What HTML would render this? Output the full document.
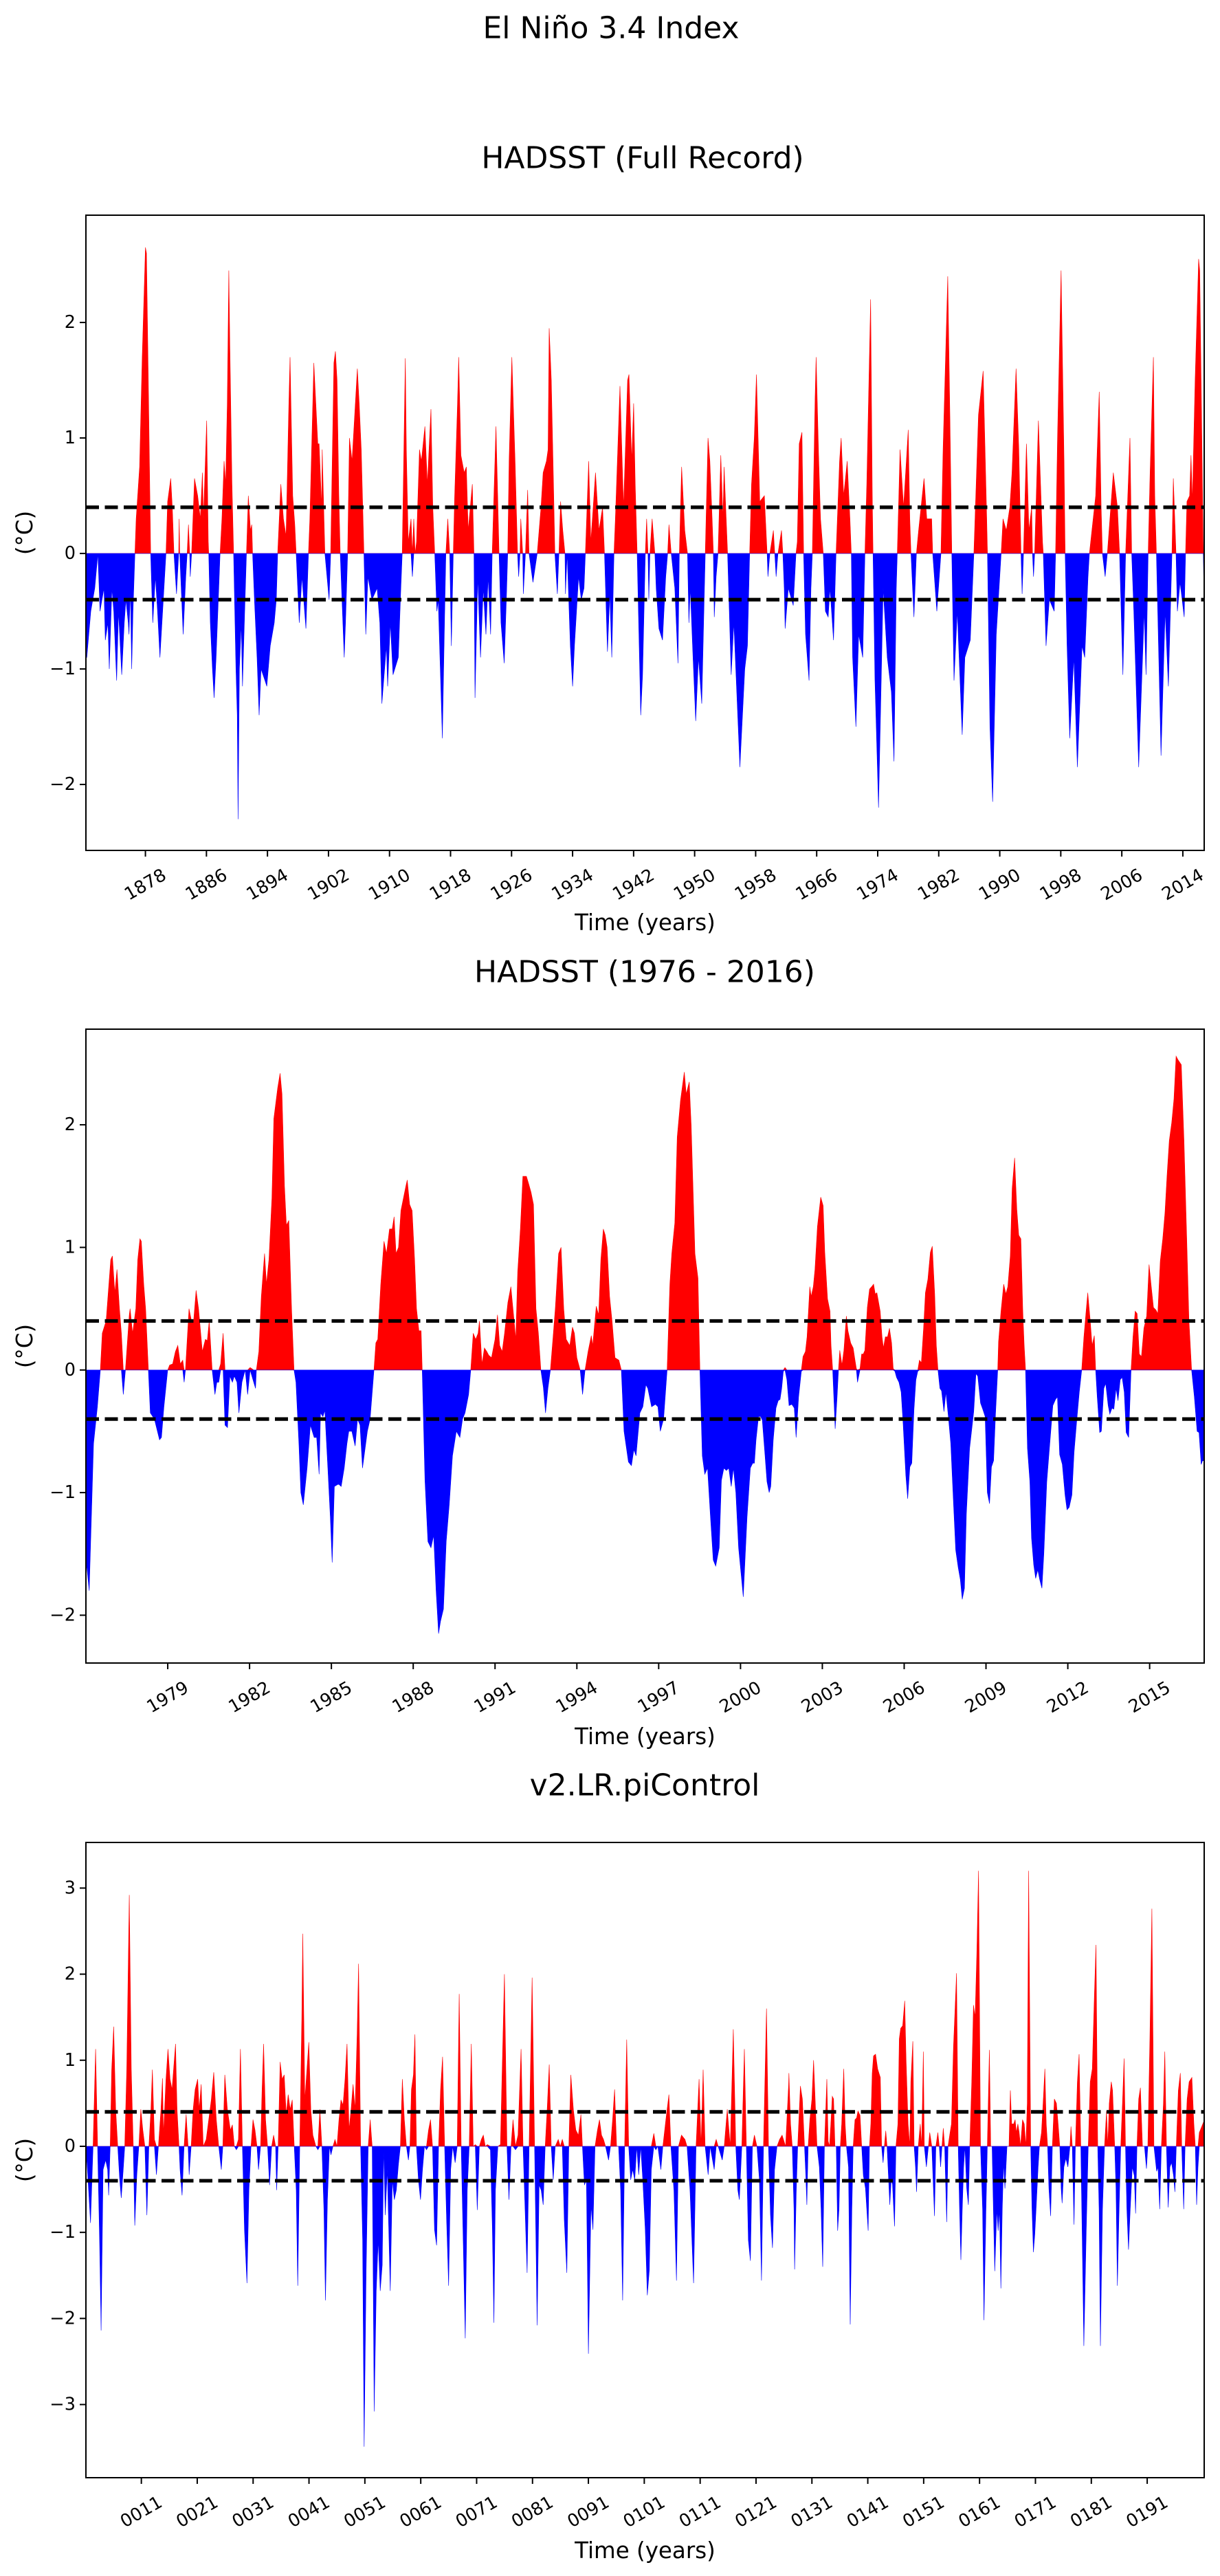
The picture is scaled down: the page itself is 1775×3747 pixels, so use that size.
<!DOCTYPE html>
<html>
<head>
<meta charset="utf-8">
<style>
html,body{margin:0;padding:0;background:#fff;}
svg{display:block;}
text{font-family:"DejaVu Sans","Liberation Sans",sans-serif;fill:#000;}
</style>
</head>
<body>
<svg id="fig" xmlns="http://www.w3.org/2000/svg" width="1775" height="3747" viewBox="0 0 1775 3747">
<rect x="0" y="0" width="1775" height="3747" fill="#fff"/>
<text x="889" y="41" font-size="44" text-anchor="middle" dominant-baseline="central">El Niño 3.4 Index</text>
<text x="935" y="230" font-size="44" text-anchor="middle" dominant-baseline="central">HADSST (Full Record)</text>
<text x="938" y="1414" font-size="44" text-anchor="middle" dominant-baseline="central">HADSST (1976 - 2016)</text>
<text x="938" y="2597" font-size="44" text-anchor="middle" dominant-baseline="central">v2.LR.piControl</text>
</svg>
<script>
// ---- Chart 1: HADSST full record (decimal year, value) ----
const fullRecordSeries = [
[1870.2,-0.9],[1870.32,-0.9],[1870.84,-0.5],[1871.36,-0.3],[1871.77,0],[1872.05,-0.5],[1872.57,-0.3],[1872.74,-0.75],[1873.09,-0.6],[1873.26,-1.0],[1873.61,-0.3],[1873.85,-0.5],[1874.23,-1.1],[1874.47,-0.5],[1874.89,-1.05],[1875.23,-0.6],[1875.44,-0.4],[1875.75,-0.6],[1875.85,-0.7],[1876.03,-0.3],[1876.2,-1.0],[1876.37,-0.5],[1876.62,0],
[1876.79,0.3],[1877.24,0.75],[1877.58,1.7],[1878.0,2.65],[1878.14,2.6],[1878.45,1.15],[1878.69,0],
[1878.97,-0.6],[1879.31,-0.2],[1879.59,-0.5],[1879.9,-0.9],[1880.35,-0.4],[1880.7,0],
[1880.91,0.45],[1881.32,0.65],[1881.53,0.4],[1881.74,0],[1882.08,-0.35],[1882.36,0],[1882.43,0.3],[1882.5,0],[1882.95,-0.7],[1883.29,-0.2],[1883.47,0],[1883.64,0.25],[1883.81,0],[1883.88,-0.2],[1884.06,0],
[1884.44,0.65],[1884.85,0.5],[1885.2,0.3],[1885.47,0.7],[1885.61,0.3],[1886.03,1.15],[1886.24,0.1],[1886.3,0],
[1886.51,-0.6],[1886.79,-1.0],[1887.0,-1.25],[1887.27,-0.9],[1887.62,-0.3],[1887.79,0],
[1888.03,0.3],[1888.31,0.8],[1888.52,0.6],[1888.73,1.3],[1888.93,2.45],[1889.07,1.8],[1889.35,0.6],[1889.56,0],
[1889.87,-1.0],[1890.04,-1.4],[1890.15,-2.3],[1890.32,-1.0],[1890.56,-0.6],[1890.73,-1.15],[1891.01,-0.5],[1891.25,0],
[1891.49,0.5],[1891.77,0.2],[1891.94,0.25],[1892.05,0],
[1892.29,-0.4],[1892.64,-0.9],[1892.91,-1.4],[1893.16,-1.0],[1893.67,-1.1],[1893.92,-1.15],[1894.37,-0.8],[1894.89,-0.6],[1895.16,-0.4],[1895.34,0],
[1895.75,0.6],[1896.1,0.3],[1896.44,0.15],[1896.79,1.25],[1896.96,1.7],[1897.31,0.5],[1897.58,0.25],[1897.76,0],
[1898.17,-0.6],[1898.52,-0.2],[1899.04,-0.65],[1899.38,0],
[1899.56,0.3],[1899.83,1.0],[1900.08,1.65],[1900.6,0.95],[1900.77,0.95],[1901.11,0.4],[1901.18,0.9],[1901.53,0],
[1902.08,-0.4],[1902.29,0],[1902.71,1.65],[1902.91,1.75],[1903.12,1.5],[1903.36,0.5],[1903.54,0],
[1904.06,-0.9],[1904.23,-0.6],[1904.51,0],[1904.75,1.0],[1905.09,0.8],[1905.78,1.6],[1906.03,1.3],[1906.3,0.9],[1906.65,0],
[1906.89,-0.7],[1907.17,-0.2],[1907.69,-0.4],[1908.38,-0.3],[1908.73,-0.6],[1909.0,-1.3],[1909.59,-0.8],[1909.76,-1.15],[1910.11,-0.6],[1910.46,-1.05],[1911.15,-0.9],[1911.49,-0.3],[1911.67,0],
[1912.07,1.69],[1912.21,0.9],[1912.46,0.1],[1912.82,0.3],[1913.0,-0.2],[1913.18,0.3],[1913.36,0],[1913.54,0.1],[1913.93,0.9],[1914.18,0.8],[1914.64,1.1],[1914.96,0.6],[1915.43,1.25],[1915.68,0.4],[1915.93,0],
[1916.21,-0.5],[1916.39,-0.4],[1916.75,-1.2],[1916.93,-1.6],[1917.21,-0.6],[1917.39,0],[1917.64,0.3],[1917.89,0],[1918.11,-0.8],[1918.36,0],
[1918.54,0.5],[1918.89,1.25],[1919.07,1.7],[1919.36,0.85],[1919.79,0.7],[1920.07,0.75],[1920.32,0.2],[1920.86,0.6],[1921.07,0],
[1921.21,-1.25],[1921.57,-0.2],[1921.93,-0.9],[1922.29,-0.3],[1922.64,-0.7],[1922.93,-0.2],[1923.25,-0.7],[1923.46,0],
[1923.96,1.1],[1924.18,0.5],[1924.36,0],[1924.61,-0.6],[1925.04,-0.95],[1925.32,-0.4],[1925.5,0],
[1925.68,0.8],[1926.04,1.7],[1926.46,0.8],[1926.79,0],[1926.93,-0.2],[1927.11,0],[1927.21,0.3],[1927.46,0],[1927.54,-0.35],[1927.82,0],[1928.11,0.55],[1928.29,0],[1928.8,-0.25],[1929.36,0],
[1929.86,0.4],[1930.14,0.7],[1930.57,0.8],[1930.79,0.9],[1930.93,1.95],[1931.21,1.5],[1931.5,0.6],[1931.68,0],
[1932.0,-0.35],[1932.21,0],[1932.43,0.45],[1932.71,0.2],[1933.0,0],[1933.07,-0.35],[1933.29,0],
[1933.71,-0.8],[1934.0,-1.15],[1934.25,-0.8],[1934.79,-0.2],[1935.14,-0.4],[1935.5,-0.3],[1935.68,0],
[1936.11,0.8],[1936.39,0.1],[1937.0,0.7],[1937.46,0.2],[1937.93,0.4],[1938.18,0],
[1938.57,-0.85],[1938.89,-0.35],[1939.14,-0.9],[1939.43,0],
[1939.61,0.3],[1940.21,1.45],[1940.68,0.4],[1941.21,1.5],[1941.39,1.55],[1941.75,0.8],[1942.0,1.3],[1942.21,0.6],[1942.46,0],
[1942.93,-1.4],[1943.18,-1.05],[1943.54,0],[1943.71,0.3],[1943.89,0],[1944.0,-0.4],[1944.14,0],[1944.43,0.3],[1944.79,0],
[1944.96,-0.3],[1945.32,-0.65],[1945.79,-0.75],[1946.21,-0.2],[1946.46,0],
[1946.64,0.25],[1946.93,0],[1947.4,-0.3],[1947.82,-0.95],[1948.0,0],[1948.29,0.75],[1948.71,0.2],[1949.07,0],[1949.25,-0.6],[1949.43,-0.3],
[1949.79,-0.9],[1950.14,-1.45],[1950.5,-0.9],[1950.93,-1.3],[1951.21,-0.5],[1951.39,0],
[1951.75,1.0],[1952.0,0.8],[1952.29,0.3],[1952.46,0],[1952.57,-0.55],[1952.82,-0.2],[1953.07,0],
[1953.43,0.85],[1953.71,0.3],[1953.86,0.75],[1954.32,0],
[1954.79,-1.05],[1955.14,-0.6],[1955.93,-1.85],[1956.57,-1.0],[1956.93,-0.8],[1957.21,0],
[1957.46,0.6],[1957.82,1.0],[1958.11,1.55],[1958.54,0.45],[1959.14,0.5],[1959.5,0],
[1959.61,-0.2],[1959.86,0],[1960.32,0.2],[1960.5,0],[1960.68,-0.2],[1960.93,0],[1961.39,0.2],[1961.57,0],
[1961.75,-0.3],[1961.86,-0.65],[1962.29,-0.3],[1962.93,-0.45],[1963.29,0],
[1963.46,0.1],[1963.71,0.95],[1964.07,1.05],[1964.29,0],[1964.54,-0.7],[1965.0,-1.1],[1965.25,-0.3],[1965.43,0],
[1965.79,1.35],[1965.93,1.7],[1966.25,0.85],[1966.5,0.3],[1966.86,0],
[1967.14,-0.5],[1967.5,-0.55],[1967.75,-0.3],[1968.21,-0.75],[1968.54,0],
[1969.0,0.8],[1969.21,1.0],[1969.54,0.5],[1970.0,0.8],[1970.36,0.3],[1970.54,0],
[1970.71,-0.9],[1971.14,-1.5],[1971.5,-0.7],[1972.04,-0.9],[1972.32,0],
[1972.57,0.6],[1973.07,2.2],[1973.29,0.5],[1973.39,0],
[1973.64,-1.1],[1974.11,-2.2],[1974.71,-0.3],[1975.25,-0.9],[1975.79,-1.2],[1976.14,-1.8],[1976.43,-0.3],[1976.57,0],
[1976.93,0.9],[1977.39,0.4],[1978.0,1.07],[1978.21,0.3],[1978.36,0],[1978.75,-0.55],[1979.07,0],
[1979.36,0.2],[1980.07,0.65],[1980.43,0.3],[1981.07,0.3],[1981.21,0],[1981.75,-0.5],[1982.29,0],
[1982.57,0.9],[1983.18,2.4],[1983.46,1.2],[1983.71,0],
[1984.0,-1.1],[1984.43,-0.5],[1985.07,-1.57],[1985.43,-0.9],[1986.14,-0.75],[1986.61,0],
[1987.21,1.2],[1987.82,1.58],[1988.29,0.3],[1988.39,0],
[1988.71,-1.5],[1989.07,-2.15],[1989.54,-0.7],[1990.18,0],
[1990.43,0.3],[1990.86,0.2],[1991.32,0.4],[1991.61,0.7],[1992.14,1.6],[1992.5,0.9],[1992.79,0],
[1992.93,-0.35],[1993.11,0],[1993.5,0.95],[1993.82,0.2],[1994.18,0.4],[1994.29,0],[1994.43,-0.2],[1994.57,0],[1995.07,1.15],[1995.61,0.1],[1995.71,0],
[1996.07,-0.8],[1996.5,-0.4],[1997.14,-0.5],[1997.32,0],
[1997.57,1.0],[1998.04,2.45],[1998.43,0.8],[1998.57,0],
[1998.82,-0.8],[1999.18,-1.6],[1999.71,-0.9],[2000.18,-1.85],[2000.79,-0.8],[2001.14,-0.9],[2001.57,-0.2],[2001.75,0],
[2002.57,0.5],[2003.04,1.4],[2003.29,0.4],[2003.46,0],[2003.82,-0.2],[2004.1,0],[2004.89,0.7],[2005.43,0.4],[2005.71,0],
[2006.14,-1.05],[2006.5,0],[2007.07,1.0],[2007.29,0],
[2007.57,-0.5],[2008.21,-1.85],[2008.93,-0.5],[2009.18,-1.05],[2009.46,0],
[2009.71,0.7],[2010.14,1.7],[2010.32,0.5],[2010.54,0],
[2011.14,-1.75],[2011.68,-0.5],[2012.11,-1.15],[2012.57,0],
[2012.75,0.65],[2013.11,0],[2013.29,-0.5],[2013.64,-0.25],[2014.18,-0.55],[2014.36,0],
[2014.54,0.45],[2014.89,0.5],[2015.07,0.85],[2015.25,0.45],[2015.61,1.5],[2016.07,2.55],[2016.21,2.45],[2016.68,0],[2016.79,-0.4]
];
const fullRecordXTicks = [1878,1886,1894,1902,1910,1918,1926,1934,1942,1950,1958,1966,1974,1982,1990,1998,2006,2014];
const fullRecordYTicks = [-2,-1,0,1,2];

// ---- Chart 2: HADSST 1976-2016 ----
const recentSeries = [
[1976.0,-1.5],[1976.03,-1.6],[1976.12,-1.8],[1976.28,-0.6],[1976.42,-0.3],[1976.53,0],[1976.6,0.3],[1976.74,0.4],[1976.91,0.9],[1976.97,0.93],[1977.06,0.63],[1977.14,0.82],[1977.23,0.5],[1977.3,0.3],[1977.37,-0.2],[1977.45,0],[1977.59,0.45],[1977.62,0.5],[1977.71,0.3],[1977.83,0.5],[1977.9,0.9],[1977.98,1.07],[1978.03,1.05],[1978.12,0.7],[1978.19,0.5],[1978.29,0],[1978.36,-0.35],[1978.51,-0.4],[1978.7,-0.57],[1978.77,-0.55],[1978.86,-0.3],[1979.0,0],[1979.07,0.04],[1979.18,0.05],[1979.28,0.15],[1979.37,0.2],[1979.46,0.05],[1979.55,0.08],[1979.6,-0.1],[1979.65,0],[1979.78,0.5],[1979.87,0.4],[1979.95,0.4],[1980.04,0.65],[1980.13,0.5],[1980.27,0.15],[1980.38,0.25],[1980.45,0.24],[1980.52,0.4],[1980.63,0],[1980.73,-0.2],[1980.8,-0.1],[1980.87,-0.1],[1980.94,0.05],[1981.03,0.3],[1981.1,-0.45],[1981.19,-0.47],[1981.28,-0.05],[1981.37,-0.1],[1981.44,-0.05],[1981.54,-0.1],[1981.61,-0.35],[1981.72,-0.1],[1981.84,0],[1981.93,-0.2],[1982.02,0.02],[1982.15,-0.1],[1982.22,-0.15],[1982.25,0],[1982.34,0.15],[1982.43,0.6],[1982.55,0.95],[1982.62,0.7],[1982.71,0.9],[1982.82,1.4],[1982.89,2.05],[1983.03,2.3],[1983.12,2.42],[1983.19,2.25],[1983.28,1.5],[1983.35,1.18],[1983.44,1.22],[1983.54,0.5],[1983.63,0],[1983.7,-0.1],[1983.81,-0.6],[1983.88,-1.0],[1983.97,-1.1],[1984.11,-0.8],[1984.23,-0.45],[1984.37,-0.55],[1984.46,-0.55],[1984.55,-0.85],[1984.6,-0.35],[1984.69,-0.38],[1984.76,-0.33],[1984.87,-0.8],[1984.96,-1.2],[1985.03,-1.57],[1985.11,-0.95],[1985.26,-0.93],[1985.36,-0.95],[1985.47,-0.8],[1985.57,-0.6],[1985.64,-0.5],[1985.75,-0.5],[1985.87,-0.62],[1985.96,-0.4],[1986.05,-0.45],[1986.14,-0.8],[1986.32,-0.5],[1986.42,-0.4],[1986.49,-0.2],[1986.56,0],[1986.63,0.22],[1986.7,0.25],[1986.81,0.7],[1986.93,1.05],[1987.02,0.95],[1987.13,1.15],[1987.23,1.15],[1987.3,1.25],[1987.37,0.95],[1987.46,1.0],[1987.55,1.3],[1987.64,1.4],[1987.73,1.5],[1987.78,1.55],[1987.87,1.35],[1987.96,1.3],[1988.05,0.9],[1988.12,0.5],[1988.21,0.32],[1988.29,0.32],[1988.33,0],[1988.43,-0.9],[1988.54,-1.4],[1988.65,-1.45],[1988.75,-1.35],[1988.84,-1.8],[1988.93,-2.15],[1989.0,-2.05],[1989.11,-1.95],[1989.21,-1.4],[1989.32,-1.1],[1989.44,-0.7],[1989.58,-0.5],[1989.71,-0.55],[1989.81,-0.4],[1989.9,-0.35],[1990.03,-0.2],[1990.11,0],[1990.2,0.3],[1990.29,0.25],[1990.38,0.3],[1990.43,0.4],[1990.52,0.05],[1990.61,0.18],[1990.7,0.15],[1990.77,0.12],[1990.87,0.1],[1991.0,0.25],[1991.09,0.45],[1991.17,0.2],[1991.26,0.15],[1991.35,0.3],[1991.47,0.55],[1991.58,0.68],[1991.7,0.4],[1991.76,0.25],[1991.83,0.8],[1991.93,1.15],[1992.02,1.58],[1992.15,1.58],[1992.23,1.52],[1992.32,1.45],[1992.41,1.35],[1992.5,0.5],[1992.59,0.3],[1992.68,0],[1992.77,-0.14],[1992.85,-0.35],[1992.94,-0.15],[1993.03,0],[1993.12,0.25],[1993.21,0.5],[1993.33,0.95],[1993.42,1.0],[1993.52,0.5],[1993.61,0.25],[1993.74,0.2],[1993.84,0.35],[1993.91,0.3],[1994.0,0.1],[1994.12,0],[1994.21,-0.2],[1994.3,0],[1994.41,0.15],[1994.53,0.28],[1994.58,0.2],[1994.71,0.52],[1994.8,0.45],[1994.88,0.9],[1994.97,1.15],[1995.04,1.1],[1995.11,1.0],[1995.2,0.6],[1995.29,0.4],[1995.4,0.1],[1995.54,0.08],[1995.63,0],[1995.73,-0.5],[1995.89,-0.75],[1996.0,-0.78],[1996.09,-0.65],[1996.17,-0.7],[1996.31,-0.35],[1996.42,-0.3],[1996.53,-0.12],[1996.6,-0.15],[1996.74,-0.3],[1996.88,-0.28],[1996.97,-0.3],[1997.06,-0.5],[1997.18,-0.4],[1997.31,0],[1997.41,0.7],[1997.48,0.95],[1997.59,1.2],[1997.68,1.9],[1997.8,2.2],[1997.94,2.43],[1998.01,2.25],[1998.12,2.35],[1998.19,2.0],[1998.33,0.95],[1998.44,0.75],[1998.51,0],[1998.6,-0.7],[1998.69,-0.85],[1998.79,-0.8],[1998.9,-1.2],[1999.0,-1.55],[1999.09,-1.6],[1999.22,-1.45],[1999.3,-0.9],[1999.39,-0.8],[1999.48,-0.82],[1999.57,-0.8],[1999.66,-0.95],[1999.74,-0.8],[1999.83,-1.0],[1999.93,-1.45],[2000.1,-1.85],[2000.24,-1.2],[2000.36,-0.8],
[2000.45,-0.76],[2000.51,-0.76],[2000.57,-0.57],[2000.66,-0.38],[2000.74,-0.38],[2000.8,-0.41],[2000.89,-0.67],[2000.97,-0.91],[2001.05,-1.0],[2001.11,-0.95],[2001.2,-0.57],[2001.3,-0.31],[2001.38,-0.25],[2001.45,-0.24],[2001.51,-0.15],[2001.57,-0.01],[2001.63,0.02],[2001.7,-0.08],[2001.78,-0.29],[2001.88,-0.28],[2001.97,-0.31],[2002.04,-0.55],[2002.13,-0.22],[2002.23,-0.01],[2002.29,0.11],[2002.38,0.15],[2002.44,0.27],[2002.54,0.68],[2002.59,0.6],[2002.67,0.68],[2002.73,0.82],[2002.82,1.17],[2002.94,1.41],[2003.03,1.34],[2003.09,0.96],[2003.19,0.58],[2003.28,0.48],[2003.32,0.2],[2003.38,0],[2003.47,-0.48],[2003.54,-0.22],[2003.59,0],[2003.64,0.16],[2003.72,0.04],[2003.79,0.16],[2003.88,0.44],[2003.94,0.32],[2004.04,0.22],[2004.13,0.18],[2004.19,0.09],[2004.25,0.01],[2004.29,-0.1],[2004.38,0.01],[2004.44,0.13],[2004.5,0.13],[2004.56,0.16],[2004.65,0.51],[2004.73,0.66],[2004.81,0.68],[2004.88,0.7],[2004.94,0.62],[2005.0,0.63],[2005.12,0.48],[2005.19,0.27],[2005.24,0.18],[2005.31,0.27],[2005.39,0.27],[2005.46,0.34],[2005.54,0.22],[2005.6,0.01],[2005.66,-0.01],[2005.72,-0.06],[2005.81,-0.1],[2005.89,-0.18],[2005.96,-0.43],[2006.06,-0.86],[2006.13,-1.05],[2006.21,-0.79],[2006.28,-0.76],[2006.36,-0.32],[2006.43,-0.08],[2006.5,-0.01],[2006.56,0.08],[2006.63,0.06],[2006.71,0.34],[2006.78,0.63],[2006.87,0.74],[2006.96,0.96],[2007.03,1.01],[2007.12,0.62],[2007.18,0.2],[2007.24,0],[2007.31,-0.15],[2007.37,-0.17],[2007.46,-0.34],[2007.53,-0.18],[2007.62,-0.38],[2007.71,-0.6],[2007.81,-1.09],[2007.89,-1.47],[2007.98,-1.61],[2008.06,-1.71],[2008.13,-1.87],[2008.21,-1.78],[2008.28,-1.17],[2008.4,-0.64],[2008.49,-0.46],[2008.55,-0.34],[2008.63,-0.03],[2008.7,-0.05],[2008.8,-0.27],[2008.88,-0.32],[2008.97,-0.38],[2009.05,-1.0],[2009.13,-1.09],[2009.2,-0.79],[2009.28,-0.74],[2009.35,-0.36],[2009.43,0],[2009.46,0.23],[2009.55,0.48],[2009.65,0.7],[2009.73,0.62],[2009.8,0.68],[2009.89,0.93],[2009.96,1.48],[2010.05,1.73],[2010.13,1.31],[2010.2,1.1],[2010.28,1.07],[2010.35,0.48],[2010.4,0.2],[2010.45,0],[2010.52,-0.64],[2010.61,-0.91],[2010.67,-1.37],[2010.75,-1.59],[2010.82,-1.7],[2010.9,-1.63],[2010.97,-1.71],[2011.05,-1.78],[2011.12,-1.5],[2011.23,-0.91],[2011.35,-0.57],[2011.45,-0.29],[2011.55,-0.24],[2011.62,-0.22],[2011.7,-0.69],[2011.8,-0.77],[2011.9,-1.02],[2011.97,-1.14],[2012.05,-1.12],[2012.15,-1.02],[2012.23,-0.67],[2012.32,-0.43],[2012.42,-0.18],[2012.51,0],[2012.59,0.27],[2012.67,0.48],[2012.73,0.63],[2012.82,0.41],[2012.89,0.2],[2012.97,0.28],[2013.02,0],[2013.08,-0.22],[2013.17,-0.51],[2013.23,-0.5],[2013.32,-0.15],[2013.39,-0.11],[2013.48,-0.29],[2013.54,-0.36],[2013.62,-0.31],[2013.69,-0.32],[2013.77,-0.15],[2013.84,-0.25],[2013.92,-0.08],[2013.99,-0.06],[2014.07,-0.18],[2014.14,-0.51],[2014.23,-0.55],[2014.32,0],[2014.39,0.27],[2014.47,0.48],[2014.54,0.46],[2014.62,0.13],[2014.7,0.11],[2014.79,0.34],[2014.89,0.44],[2014.98,0.86],[2015.06,0.68],[2015.14,0.51],[2015.23,0.49],[2015.3,0.46],[2015.39,0.89],[2015.48,1.07],[2015.56,1.28],[2015.64,1.59],[2015.72,1.87],[2015.81,2.02],[2015.89,2.21],[2015.97,2.56],[2016.04,2.53],[2016.1,2.51],[2016.16,2.49],[2016.26,1.87],[2016.36,1.07],[2016.44,0.41],[2016.54,0],[2016.64,-0.22],[2016.74,-0.5],[2016.81,-0.51],[2016.89,-0.77],[2016.94,-0.74],[2017.0,-0.74]
];
const recentXTicks = [1979,1982,1985,1988,1991,1994,1997,2000,2003,2006,2009,2012,2015];
const recentYTicks = [-2,-1,0,1,2];

// ---- Chart 3: v2.LR.piControl (model year, value) ----
const controlSeries = [
[1.08,0],[1.46,-0.39],[1.91,-0.89],[2.36,0],[2.81,1.13],[3.17,0],[3.53,-1.09],[3.8,-2.14],[4.16,-0.27],[4.61,-0.16],[4.97,-0.27],[5.15,-0.57],[5.42,0],[5.69,0.89],[6.05,1.39],[6.41,0.43],[6.77,0],[7.13,-0.39],[7.4,-0.6],[7.76,-0.27],[8.03,0],[8.39,0.89],[8.84,2.92],[9.2,0.89],[9.56,0],[9.83,-0.92],[10.19,-0.33],[10.55,0],[10.91,0.43],[11.27,0.19],[11.63,0],[11.99,-0.8],[12.35,0],[12.71,0.43],[12.98,0.89],[13.34,0.08],[13.7,-0.33],[14.06,0],[14.51,0.43],[14.78,0.79],[14.96,0.13],[15.41,0.78],[15.77,1.13],[16.13,0.78],[16.49,0.66],[16.76,0.89],[17.12,1.19],[17.39,0.43],[17.75,0],[17.93,-0.27],[18.29,-0.57],[18.65,0],[19.01,0.37],[19.37,0],[19.55,-0.33],[19.91,0],[20.27,0.43],[20.63,0.66],[21.08,0.78],[21.35,0.43],[21.71,0.72],[22.07,0],[22.61,0.08],[23.06,0.31],[23.51,0.54],[23.96,0.86],[24.41,0.31],[24.86,0],[25.31,-0.27],[25.58,0],[25.94,0.83],[26.39,0.43],[26.93,0.19],[27.29,0.25],[27.65,0],[28.01,-0.04],[28.37,0.08],[28.73,1.13],[29.09,0],[29.45,-0.97],[29.9,-1.59],[30.26,-0.51],[30.62,0],[30.98,0.31],[31.34,0.19],[31.7,0],[31.97,-0.27],[32.33,0],[32.6,0.66],[32.87,1.19],[33.23,0.31],[33.59,0],[33.95,-0.45],[34.31,0],[34.67,0.13],[35.03,0],[35.21,-0.51],[35.48,0],[35.84,0.98],[36.2,0.78],[36.56,0.83],[36.92,0.37],[37.28,0.6],[37.64,0.43],[38.0,0.54],[38.36,0],[38.72,-0.51],[38.99,-1.62],[39.35,0],[39.71,1.48],[39.89,2.47],[40.25,0.54],[40.97,1.21],[41.33,0.43],[41.69,0.13],[42.23,0],[42.59,-0.04],[42.95,0.43],[43.31,0],[43.67,-0.74],[43.94,-1.79],[44.3,-0.62],[44.66,0],[44.93,-0.1],[45.29,0],[45.65,0.08],[46.01,0],[46.37,0.31],[46.73,0.54],[47.09,0.48],[47.45,0.78],[47.81,1.19],[48.17,0.19],[48.53,0.43],[48.89,0.72],[49.25,0.43],[49.61,1.3],[49.88,2.12],[50.24,0],[50.6,-1.09],[50.87,-3.49],[51.23,-1.44],[51.59,0],[51.95,0.31],[52.31,0],[52.67,-3.08],[53.03,-1.68],[53.39,-1.09],[53.75,-1.68],[54.11,-1.38],[54.38,0],[54.65,-0.8],[55.01,-0.27],[55.55,-1.68],[55.91,-0.39],[56.27,-0.62],[56.63,-0.51],[56.99,-0.22],[57.35,0],[57.71,0.78],[58.07,0.31],[58.43,0],[58.79,-0.16],[59.06,0],[59.33,0.66],[59.69,0.83],[59.96,1.3],[60.23,0],[60.59,-0.39],[60.95,-0.62],[61.31,-0.27],[61.67,0],[62.03,-0.04],[62.39,0.19],[62.75,0.31],[63.11,0],[63.47,-0.97],[63.83,-1.15],[64.19,0],[64.55,0.66],[64.91,1.04],[65.27,0],[65.63,-0.86],[65.99,-1.62],[66.35,-0.27],[66.71,0],[67.16,-0.19],[67.52,0],[67.88,1.77],[68.24,0],[68.6,-1.09],[68.96,-2.23],[69.32,-0.51],[69.68,0],[70.04,1.19],[70.4,0],[70.76,0.02],[71.12,-0.74],[71.48,0],[71.84,0.08],[72.2,0.13],[72.56,0],[72.92,0.02],[73.46,-0.04],[73.82,-0.97],[74.09,-2.05],[74.36,-0.51],[74.81,0],[75.26,0.02],[75.98,2.0],[76.43,0],[76.79,-0.62],[77.15,0],[77.51,0.31],[77.96,-0.04],[78.41,0.13],[78.95,1.13],[79.31,0],[80.03,-1.47],[80.39,0],[80.93,1.96],[81.38,0],[81.83,-2.08],[82.19,-0.45],[82.55,-0.51],[82.91,-0.68],[83.27,0],[83.63,0.43],[83.99,0.95],[84.35,0],[84.71,-0.39],[85.07,0],[85.61,0.08],[85.97,0],[86.33,0.08],[86.69,-0.86],[87.14,-1.47],[87.5,0],[87.86,0.83],[88.31,0.43],[88.76,0.19],[89.21,0.13],[89.66,0.37],[89.93,0],[90.29,-0.45],[90.65,-0.39],[91.01,-2.41],[91.46,-0.68],[91.82,-0.97],[92.18,0],[92.63,0.19],[92.99,0.31],[93.35,0.13],[93.71,0.08],[94.07,0],[94.61,-0.16],[94.97,0],[95.33,0.31],[95.69,0.66],[96.05,0],[96.41,0],[96.77,-0.51],[97.13,-1.79],[97.49,0],[97.85,1.24],[98.21,0],[98.57,-0.39],[98.93,-0.27],[99.29,-0.39],[99.65,0],[100.01,-0.33],[100.37,0],[100.73,-0.39],[101.18,-0.97],[101.54,-1.73],[101.9,-1.44],[102.26,-0.27],[102.71,0.15],[103.07,-0.04],[103.43,0],[103.97,-0.27],[104.33,0],[104.87,0.31],[105.41,0.6],[105.77,0],[106.31,-0.51],[106.76,-1.56],[107.12,0],[107.66,0.13],[108.29,0.08],[108.65,0],[109.19,-0.51],[109.82,-1.59],[110.27,0],[110.81,0.78],[111.17,0],[111.53,0.89],[111.89,0],[112.43,-0.33],[112.79,0],[113.51,-0.27],[113.87,0.08],[114.23,0],[114.95,-0.16],[115.31,0],[115.85,0.43],[116.39,0],[116.93,1.36],[117.38,0],[117.74,-0.51],[118.01,-0.62],[118.46,0],[118.91,1.13],[119.27,0],[119.63,-1.09],[119.99,-1.33],[120.35,0],[120.71,0.13],[121.16,0],[121.61,-0.39],[121.97,-1.56],[122.33,0],[122.87,1.6],[123.23,0],[123.59,-0.8],[123.95,-1.18],[124.31,-0.27],[124.76,0],[125.21,0.08],[125.66,0.13],[126.29,0],[126.83,0.72],
[126.88,0.85],[127.18,0.26],[127.49,0],[127.79,-0.73],[127.91,-1.43],[128.21,-0.49],[128.46,0],[128.7,0.36],[128.94,0.7],[129.3,0.55],[129.67,0],[129.91,-0.34],[130.09,-0.68],[130.33,0],[130.64,0.31],[131.0,0.55],[131.3,1.0],[131.61,0.5],[131.91,0],[132.33,-0.24],[132.64,-0.73],[132.94,-1.4],[133.24,0],[133.67,0.78],[133.91,0.06],[134.15,0],[134.39,0.26],[134.64,0.58],[134.88,0.55],[135.12,0],[135.36,0],[135.61,-0.98],[135.85,-0.73],[136.09,0],[136.33,0.26],[136.7,0.9],[136.94,0.26],[137.18,0],[137.55,-0.24],[137.85,-2.07],[138.15,-0.73],[138.39,0],[138.7,0.31],[139.0,0.33],[139.24,0.41],[139.61,0.36],[139.91,0],[140.21,-0.34],[140.58,-0.49],[140.82,-0.73],[141.06,-0.98],[141.3,0],[141.55,0.26],[141.79,0.85],[142.03,1.05],[142.39,1.07],[142.76,0.9],[143.24,0.8],[143.48,0],[143.73,-0.19],[143.97,0],[144.21,0.18],[144.45,0],[144.7,-0.34],[144.94,-0.68],[145.18,-0.39],[145.42,-0.44],[145.79,-0.93],[146.03,0],[146.39,0.26],[146.64,1.25],[146.88,1.37],[147.24,1.4],[147.61,1.69],[147.85,1.0],[148.21,0.26],[148.51,0],[148.7,0.75],[149.06,1.22],[149.3,0],[149.54,-0.24],[149.73,-0.53],[150.03,0],[150.39,0.26],[150.64,0],[150.94,1.1],[151.12,0],[151.48,-0.24],[151.85,0],[152.09,0.16],[152.45,0],[152.94,-0.81],[153.18,0],[153.54,0.16],[153.79,0],[154.03,-0.24],[154.27,0],[154.51,0.21],[154.76,0],[155.12,-0.88],[155.36,0],[155.73,0.16],[155.97,0.26],[156.33,1.15],[156.88,2.01],[157.18,0],[157.42,-0.73],[157.66,-1.32],[157.91,-0.73],[158.15,-0.24],[158.39,0],[158.7,-0.49],[159.0,-0.68],[159.24,0],[159.6,0.75],[159.91,1.64],[160.21,1.5],[160.51,2.24],[160.82,3.2],[161.18,0],[161.54,-0.73],[161.79,-2.02],[162.15,-0.73],[162.39,0],[162.76,1.12],[163.0,0],[163.24,0],[163.48,-0.73],[163.72,-1.45],[164.09,-0.73],[164.33,-0.98],[164.57,-0.73],[164.82,-1.65],[165.06,-0.73],[165.3,-0.19],[165.54,-0.49],[165.91,0],[166.27,0],[166.51,0.65],[166.75,0.26],[167.12,0.26],[167.36,0.31],[167.6,0.16],[167.85,0.26],[168.09,0.16],[168.33,0],[168.69,0.31],[169.0,0.26],[169.3,0],[169.54,0.5],[169.78,3.2],[170.15,0],[170.39,-0.73],[170.63,-1.23],[170.88,-1.03],[171.12,-0.73],[171.48,-0.24],[171.72,0],[172.09,0.16],[172.45,0.6],[172.69,0.9],[172.94,0.26],[173.18,0],[173.42,-0.49],[173.72,-0.81],[174.03,0],[174.39,0.55],[174.75,0.5],[175.06,0.26],[175.36,0],[175.6,-0.49],[175.78,-0.66],[176.09,-0.24],[176.45,-0.14],[176.81,-0.24],[177.18,0],[177.36,0.23],[177.6,0],[177.91,-0.91],[178.15,0],[178.51,0.75],[178.81,1.07],[179.12,0],[179.36,-0.98],[179.66,-2.32],[180.09,-0.98],[180.45,0],[180.81,0.75],[181.18,0.9],[181.54,1.74],[181.84,2.34],[182.15,0],[182.39,-0.73],[182.63,-2.32],[182.99,-0.73],[183.36,0],[183.72,0.41],[183.96,0],[184.21,0.5],[184.57,0.75],[184.81,0.65],[185.18,0],[185.42,-0.49],[185.66,-1.62],[185.97,-0.73],[186.27,0],[186.57,0.5],[186.87,1.02],[187.12,0],[187.36,-0.73],[187.66,-1.2],[187.96,-0.73],[188.33,-0.24],[188.69,-0.34],[188.93,-0.78],[189.17,0],[189.48,0.55],[189.78,0.68],[190.15,0],[190.51,0],[190.87,-0.26],[191.12,0],[191.48,1.25],[191.84,2.76],[192.21,0],[192.69,-0.29],[192.93,-0.24],[193.24,-0.73],[193.54,0],[193.9,0.5],[194.15,1.1],[194.45,0],[194.75,-0.71],[195.06,-0.24],[195.36,-0.19],[195.72,-0.34],[195.96,-0.53],[196.21,0],[196.57,0.65],[196.93,0.85],[197.18,0],[197.54,-0.73],[197.78,0],[198.15,0.55],[198.51,0.75],[199.0,0.8],[199.36,0.26],[199.61,0],[199.85,-0.68],[200.09,-0.24],[200.33,0.16],[201.2,0.3]
];
const controlXTicks = [11,21,31,41,51,61,71,81,91,101,111,121,131,141,151,161,171,181,191];
const controlYTicks = [-3,-2,-1,0,1,2,3];
const thresholdLevels = [0.4,-0.4];

const NS = 'http://www.w3.org/2000/svg';
const svg = document.getElementById('fig');
function el(tag, attrs, parent) {
  const e = document.createElementNS(NS, tag);
  for (const k in attrs) e.setAttribute(k, attrs[k]);
  (parent || svg).appendChild(e);
  return e;
}

function drawChart(id, series, xTicks, yTicks, box, xlim, ylim, fmt, xlabelY) {
  const g = el('g', {});
  
  
  const xs = v => box.l + (v - xlim[0]) / (xlim[1] - xlim[0]) * (box.r - box.l);
  const ys = v => box.t + (ylim[1] - v) / (ylim[1] - ylim[0]) * (box.b - box.t);
  const clip = el('clipPath', {id: id + '-clip'}, g);
  el('rect', {x: box.l, y: box.t, width: box.r - box.l, height: box.b - box.t}, clip);
  const plot = el('g', {'clip-path': 'url(#' + id + '-clip)'}, g);
  const y0 = ys(0);
  let pos = 'M' + xs(series[0][0]).toFixed(1) + ',' + y0.toFixed(1);
  let neg = pos;
  for (const p of series) {
    const x = xs(p[0]).toFixed(1);
    pos += 'L' + x + ',' + ys(Math.max(p[1], 0)).toFixed(1);
    neg += 'L' + x + ',' + ys(Math.min(p[1], 0)).toFixed(1);
  }
  const xe = xs(series[series.length - 1][0]).toFixed(1);
  pos += 'L' + xe + ',' + y0.toFixed(1) + 'Z';
  neg += 'L' + xe + ',' + y0.toFixed(1) + 'Z';
  const pf = el('path', {d: pos, fill: '#ff0000', stroke: '#ff0000', 'stroke-width': '0.6'}, plot);
  
  
  const nf = el('path', {d: neg, fill: '#0000ff', stroke: '#0000ff', 'stroke-width': '0.6'}, plot);
  
  
  for (const lv of thresholdLevels) {
    const ln = el('line', {x1: box.l, x2: box.r, y1: ys(lv), y2: ys(lv), stroke: '#000', 'stroke-width': '5.2', 'stroke-dasharray': '19 8.5'}, plot);
    
    
  }
  const frame = el('rect', {x: box.l, y: box.t, width: box.r - box.l, height: box.b - box.t, fill: 'none', stroke: '#000', 'stroke-width': '2'}, g);
  
  
  for (const t of xTicks) {
    const x = xs(t);
    el('line', {x1: x, x2: x, y1: box.b, y2: box.b + 9, stroke: '#000', 'stroke-width': '2'}, g);
    const tx = el('text', {x: x, y: box.b + 50, 'font-size': '25.5', 'text-anchor': 'middle', 'dominant-baseline': 'central', transform: 'rotate(-30 ' + x + ' ' + (box.b + 50) + ')'}, g);
    tx.textContent = fmt(t);
    
    
  }
  for (const t of yTicks) {
    const y = ys(t);
    el('line', {x1: box.l - 9, x2: box.l, y1: y, y2: y, stroke: '#000', 'stroke-width': '2'}, g);
    const ty = el('text', {x: box.l - 15, y: y, 'font-size': '25.5', 'text-anchor': 'end', 'dominant-baseline': 'central'}, g);
    ty.textContent = t < 0 ? '\u2212' + Math.abs(t) : String(t);
    
    
  }
  const cy = (box.t + box.b) / 2;
  const yl = el('text', {x: 36, y: cy, 'font-size': '32.5', 'text-anchor': 'middle', 'dominant-baseline': 'central', transform: 'rotate(-90 36 ' + cy + ')'}, g);
  yl.textContent = '(\u00B0C)';
  
  
  const xl = el('text', {x: (box.l + box.r) / 2, y: xlabelY, 'font-size': '32.5', 'text-anchor': 'middle', 'dominant-baseline': 'central'}, g);
  xl.textContent = 'Time (years)';
  
  
}

drawChart('full-record', fullRecordSeries, fullRecordXTicks, fullRecordYTicks,
  {l: 125, r: 1752, t: 313, b: 1237}, [1870.2, 2016.8], [-2.571, 2.929], t => String(t), 1342);
drawChart('recent', recentSeries, recentXTicks, recentYTicks,
  {l: 125, r: 1752, t: 1497, b: 2419}, [1976.0, 2017.0], [-2.39, 2.78], t => String(t), 2526);
drawChart('picontrol', controlSeries, controlXTicks, controlYTicks,
  {l: 125, r: 1752, t: 2680, b: 3604}, [1.08, 201.2], [-3.85, 3.53], t => String(t).padStart(4, '0'), 3710);
</script>
</body>
</html>
